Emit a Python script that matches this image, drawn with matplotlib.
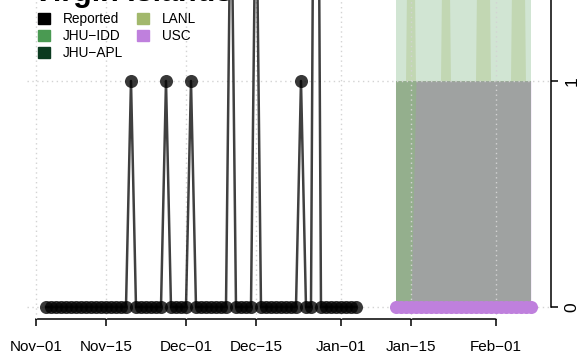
import numpy as np
import pandas as pd
import matplotlib
matplotlib.use('Agg')
import matplotlib.pyplot as plt
import matplotlib.dates as mdates
from matplotlib.patches import Patch

plt.rcParams['font.family'] = ['Liberation Sans', 'DejaVu Sans']

# 报告的每日死亡数 (2020-11-03 ~ 2021-01-04)
rep_start = '2020-11-03'
rep_vals = [0, 0, 0, 0, 0, 0, 0, 0, 0, 0,
            0, 0, 0, 0, 0, 0, 0, 1, 0, 0,
            0, 0, 0, 0, 1, 0, 0, 0, 0, 1,
            0, 0, 0, 0, 0, 0, 0, 2, 0, 0,
            0, 0, 2, 0, 0, 0, 0, 0, 0, 0,
            0, 1, 0, 0, 4, 0, 0, 0, 0, 0,
            0, 0, 0]

# 预测区间 (2021-01-12 ~ 2021-02-08)
fc_start = '2021-01-12'
idd_lo = [0, 0, 0, 0, 0, 0, 0, 0, 0, 0, 0, 0, 0, 0,
          0, 0, 0, 0, 0, 0, 0, 0, 0, 0, 0, 0, 0, 0]
idd_hi = [3, 3, 3, 3, 3, 3, 3, 3, 3, 3, 3, 3, 3, 3,
          3, 3, 3, 3, 3, 3, 3, 3, 3, 3, 3, 3, 3, 3]
apl_lo = [0, 0, 0, 0, 0, 0, 0, 0, 0, 0, 0, 0, 0, 0,
          0, 0, 0, 0, 0, 0, 0, 0, 0, 0, 0, 0, 0, 0]
apl_hi = [1, 1, 1, 1, 1, 1, 1, 1, 1, 1, 1, 1, 1, 1,
          1, 1, 1, 1, 1, 1, 1, 1, 1, 1, 1, 1, 1, 1]
lanl_lo = [0, 0, 0, 0, 0, 0, 0, 0, 0, 0, 0, 0, 0, 0,
           0, 0, 0, 0, 0, 0, 0, 0, 0, 0, 0, 0, 0, 0]
lanl_hi = [1, 1, 1, 3, 1, 1, 1, 1, 1, 1, 3, 1, 1, 1,
           1, 1, 1, 3, 3, 1, 1, 1, 1, 1, 3, 3, 1, 1]
usc_lo = [0, 0, 0, 0, 0, 0, 0, 0, 0, 0, 0, 0, 0, 0,
          0, 0, 0, 0, 0, 0, 0, 0, 0, 0, 0, 0, 0, 0]
usc_hi = [0, 0, 0, 0, 1, 1, 1, 1, 1, 1, 1, 1, 1, 1,
          1, 1, 1, 1, 1, 1, 1, 1, 1, 1, 1, 1, 1, 1]
usc_med = [0, 0, 0, 0, 0, 0, 0, 0, 0, 0, 0, 0, 0, 0,
           0, 0, 0, 0, 0, 0, 0, 0, 0, 0, 0, 0, 0, 0]

tick_dates = ['2020-11-01', '2020-11-15', '2020-12-01', '2020-12-15',
              '2021-01-01', '2021-01-15', '2021-02-01']
tick_labels = ['Nov\u221201', 'Nov\u221215', 'Dec\u221201', 'Dec\u221215',
               'Jan\u221201', 'Jan\u221215', 'Feb\u221201']

col_idd = '#4a9a52'
col_apl = '#0b3a1f'
col_lanl = '#a2b86c'
col_usc = '#bf80dd'

rep_dates = pd.date_range(rep_start, periods=len(rep_vals), freq='D')
fc_dates = pd.date_range(fc_start, periods=len(idd_hi), freq='D')

fig = plt.figure(figsize=(5.82, 3.6), dpi=100)
ax = fig.add_axes([0.0457, 0.1131, 0.901, 0.922])

# 预测带
ax.fill_between(fc_dates, idd_lo, idd_hi, color=col_idd, alpha=0.25, lw=0, zorder=1)
ax.fill_between(fc_dates, lanl_lo, lanl_hi, color=col_lanl, alpha=0.3, lw=0, zorder=1)
ax.fill_between(fc_dates, apl_lo, apl_hi, color=col_apl, alpha=0.25, lw=0, zorder=1)
ax.fill_between(fc_dates, usc_lo, usc_hi, color=col_usc, alpha=0.26, lw=0, zorder=1)

# 报告数据
ax.plot(rep_dates, rep_vals, color='black', lw=1.8, alpha=0.75, zorder=3)
ax.plot(rep_dates, rep_vals, 'o', color='black', ms=9.4, mew=0, alpha=0.78, zorder=3)
ax.plot(fc_dates, usc_med, 'o', color=col_usc, ms=9.4, mew=0, zorder=3)

x0 = mdates.date2num(pd.Timestamp('2020-11-01'))
ax.set_xlim(x0 - 1.88, x0 + 103)
ax.set_ylim(-0.0544, 1.414)

tick_pos = mdates.date2num(pd.to_datetime(tick_dates))
ax.set_xticks(tick_pos)
ax.set_xticklabels(tick_labels, fontsize=11)
ax.set_yticks([0, 1])
ax.set_yticklabels(['0', '1'], fontsize=12.5, rotation=90, va='center')
ax.yaxis.tick_right()

ax.grid(True, color='#d3d3d3', ls=(0, (1, 2.5)), lw=1, zorder=5)
ax.set_axisbelow(False)

for s in ['top', 'left']:
    ax.spines[s].set_visible(False)
ax.spines['bottom'].set_bounds(tick_pos[0], tick_pos[-1])
ax.spines['right'].set_bounds(0, 1.414)
ax.spines['bottom'].set_linewidth(1.1)
ax.spines['right'].set_linewidth(1.1)
ax.tick_params(axis='x', length=5, width=1.1, pad=10)
ax.tick_params(axis='y', length=5, width=1.1, pad=5)

handles = [Patch(color='black'), Patch(color=col_idd), Patch(color=col_apl),
           Patch(color=col_lanl), Patch(color=col_usc)]
labels = ['Reported', 'JHU\u2212IDD', 'JHU\u2212APL', 'LANL', 'USC']
fig.legend(handles, labels, loc='upper left', bbox_to_anchor=(38 / 582, 1 - 12 / 360),
           ncol=2, frameon=False, fontsize=9.8, handlelength=0.85, handleheight=0.85,
           handletextpad=1.0, columnspacing=1.0, labelspacing=0.22, borderpad=0,
           borderaxespad=0)

fig.text(33 / 582, 1 - 1 / 360, 'Virgin Islands', fontsize=22, fontweight='bold',
         va='baseline', ha='left')

fig.savefig('out.png', dpi=100)
